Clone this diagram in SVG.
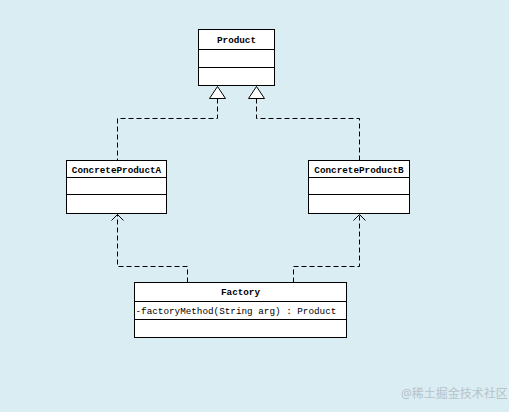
<svg xmlns="http://www.w3.org/2000/svg" width="509" height="412" viewBox="0 0 509 412">
<style>
.box{fill:#fff;stroke:#000;stroke-width:1}
.t{font-family:"Liberation Mono",monospace;font-size:9.3px;fill:#000}
.b{font-weight:bold}
.c{fill:none;stroke:#000;stroke-width:1;stroke-dasharray:5,3}
.a{fill:none;stroke:#000;stroke-width:1}
</style>
<rect width="509" height="412" fill="#daedf3"/>
<g id="connectors">
<polyline class="c" points="217.5,98.5 217.5,118.5 117.5,118.5 117.5,160.5"/>
<polyline class="c" points="256.5,98.5 256.5,118.5 359.5,118.5 359.5,160.5"/>
<polygon points="217.5,86.5 209.5,98.5 225.5,98.5" fill="#fff" stroke="#000"/>
<polygon points="256.5,86.5 248.5,98.5 264.5,98.5" fill="#fff" stroke="#000"/>
<polyline class="c" points="187.5,282.5 187.5,266.5 117.5,266.5 117.5,214.5"/>
<polyline class="c" points="293.5,282.5 293.5,266.5 359.5,266.5 359.5,214.5"/>
<path class="a" d="M111.5,220.5 L117.5,214.5 L123.5,220.5"/>
<path class="a" d="M353.5,220.5 L359.5,214.5 L365.5,220.5"/>
</g>
<g id="Product">
<rect class="box" x="198.5" y="29.5" width="76" height="56"/>
<line x1="198.5" y1="49.5" x2="274.5" y2="49.5" stroke="#000"/>
<line x1="198.5" y1="67.5" x2="274.5" y2="67.5" stroke="#000"/>
<text class="t b" x="236.5" y="42.5" text-anchor="middle">Product</text>
</g>
<g id="ConcreteProductA">
<rect class="box" x="66.5" y="160.5" width="100" height="53"/>
<line x1="66.5" y1="177.5" x2="166.5" y2="177.5" stroke="#000"/>
<line x1="66.5" y1="194.5" x2="166.5" y2="194.5" stroke="#000"/>
<text class="t b" x="116.5" y="172.5" text-anchor="middle">ConcreteProductA</text>
</g>
<g id="ConcreteProductB">
<rect class="box" x="308.5" y="160.5" width="101" height="53"/>
<line x1="308.5" y1="177.5" x2="409.5" y2="177.5" stroke="#000"/>
<line x1="308.5" y1="194.5" x2="409.5" y2="194.5" stroke="#000"/>
<text class="t b" x="359" y="172.5" text-anchor="middle">ConcreteProductB</text>
</g>
<g id="Factory">
<rect class="box" x="134.5" y="282.5" width="212" height="55"/>
<line x1="134.5" y1="301.5" x2="346.5" y2="301.5" stroke="#000"/>
<line x1="134.5" y1="319.5" x2="346.5" y2="319.5" stroke="#000"/>
<text class="t b" x="240.5" y="295" text-anchor="middle">Factory</text>
<text class="t" x="135.5" y="314">-factoryMethod(String arg) : Product</text>
</g>
<text x="401" y="398" font-family="'Noto Sans','Noto Sans CJK SC',sans-serif" font-size="12" fill="#b8c2c8">@稀土掘金技术社区</text>
</svg>
